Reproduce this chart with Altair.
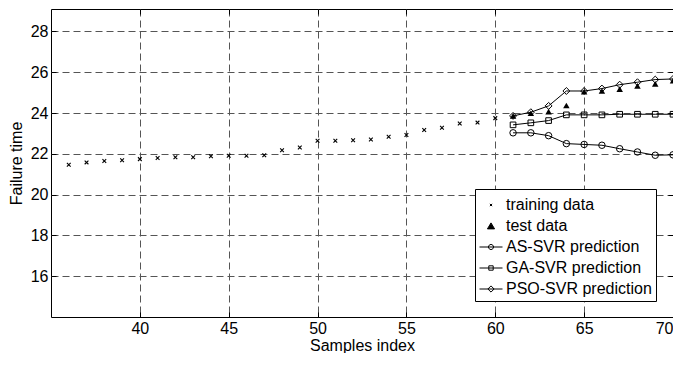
import altair as alt
import pandas as pd

# ---- data ----
train_x = list(range(36, 61))
train_y = [21.46, 21.58, 21.65, 21.69, 21.74, 21.80, 21.83, 21.83, 21.88, 21.91,
           21.91, 21.93, 22.17, 22.31, 22.64, 22.64, 22.67, 22.70, 22.84, 22.92,
           23.17, 23.28, 23.49, 23.53, 23.75]
test_x = list(range(61, 71))
test_y = [23.86, 23.99, 24.07, 24.37, 25.04, 25.08, 25.17, 25.33, 25.43, 25.58]
as_svr = [23.03, 23.03, 22.89, 22.50, 22.46, 22.42, 22.25, 22.09, 21.93, 21.95]
ga_svr = [23.42, 23.52, 23.63, 23.91, 23.91, 23.91, 23.94, 23.94, 23.94, 23.94]
pso_svr = [23.86, 24.04, 24.35, 25.08, 25.08, 25.20, 25.39, 25.51, 25.64, 25.67]

series_names = ["training data", "test data", "AS-SVR prediction",
                "GA-SVR prediction", "PSO-SVR prediction"]
x_ticks = [40, 45, 50, 55, 60, 65, 70]
y_ticks = [16, 18, 20, 22, 24, 26, 28]

FONT = "Liberation Sans"

train_df = pd.DataFrame({"x": train_x, "y": train_y})
test_df = pd.DataFrame({"x": test_x, "y": test_y})
pred_df = pd.concat([
    pd.DataFrame({"x": test_x, "y": as_svr, "method": "AS-SVR prediction"}),
    pd.DataFrame({"x": test_x, "y": ga_svr, "method": "GA-SVR prediction"}),
    pd.DataFrame({"x": test_x, "y": pso_svr, "method": "PSO-SVR prediction"}),
])
legend_df = pd.DataFrame({"series": series_names, "x": [0] * 5, "y": [0] * 5})

xs = alt.Scale(domain=[35, 70], nice=False, zero=False)
ys = alt.Scale(domain=[14, 29.1], nice=False, zero=False)

common_axis = dict(domain=False, offset=-5, tickSize=5, tickColor="black",
                   tickWidth=1, labelFont=FONT, labelFontSize=16,
                   labelColor="black", titleFont=FONT, titleFontSize=16,
                   titleFontWeight="normal", titleColor="black")

x_main = alt.Axis(values=x_ticks, orient="bottom", title="Samples index",
                  grid=True, gridDash=[7, 4], gridColor="#555",
                  labelPadding=3, titlePadding=1, **common_axis)
y_main = alt.Axis(values=y_ticks, orient="left", title="Failure time",
                  grid=True, gridDash=[7, 4], gridColor="#555",
                  labelPadding=3, titlePadding=6, **common_axis)
x_top = alt.Axis(values=x_ticks, orient="top", title=None, labels=False,
                 grid=False, domain=False, offset=-5, tickSize=5,
                 tickColor="black")
y_right = alt.Axis(values=y_ticks, orient="right", title=None, labels=False,
                   grid=False, domain=False, offset=-5, tickSize=5,
                   tickColor="black")

X_PATH = "M-1,-1L1,1M-1,1L1,-1"

lines = alt.Chart(pred_df).mark_line(color="black", strokeWidth=1).encode(
    x=alt.X("x:Q", scale=xs, axis=None),
    y=alt.Y("y:Q", scale=ys, axis=None),
    detail="method:N",
)

def marker_layer(method, shape, size):
    return alt.Chart(pred_df).transform_filter(
        alt.datum.method == method
    ).mark_point(shape=shape, size=size, filled=False, stroke="black",
                 strokeWidth=1, opacity=1).encode(
        x=alt.X("x:Q", scale=xs, axis=None),
        y=alt.Y("y:Q", scale=ys, axis=None),
    )

as_pts = marker_layer("AS-SVR prediction", "circle", 42)
ga_pts = marker_layer("GA-SVR prediction", "square", 32)
pso_pts = marker_layer("PSO-SVR prediction", "diamond", 48)

train_pts = alt.Chart(train_df).mark_point(
    shape=X_PATH, size=14, filled=False, stroke="black", strokeWidth=1.1,
    opacity=1).encode(
    x=alt.X("x:Q", scale=xs, axis=x_main),
    y=alt.Y("y:Q", scale=ys, axis=y_main),
)

test_pts = alt.Chart(test_df).mark_point(
    shape="triangle-up", size=42, filled=True, color="black",
    opacity=1).encode(
    x=alt.X("x:Q", scale=xs, axis=x_top),
    y=alt.Y("y:Q", scale=ys, axis=y_right),
)

# legend-only layer (no data drawn; entries come from explicit domains)
leg_x = "M-0.1,-0.1L0.1,0.1M-0.1,0.1L0.1,-0.1"
leg_tri = "M0,-0.27L0.31,0.25L-0.31,0.25Z"
leg_circ = "M-1,0H1M-0.22,0A0.22,0.22,0,1,0,0.22,0A0.22,0.22,0,1,0,-0.22,0Z"
leg_sq = "M-1,0H1M-0.19,-0.19H0.19V0.19H-0.19Z"
leg_dia = "M-1,0H1M0,-0.27L0.27,0L0,0.27L-0.27,0Z"

leg = alt.Legend(title=None, orient="none", legendX=424, legendY=180)
legend_layer = alt.Chart(legend_df).transform_filter(
    alt.datum.x > 1000
).mark_point(size=529, strokeWidth=1, opacity=1).encode(
    x=alt.X("x:Q", scale=xs, axis=None),
    y=alt.Y("y:Q", scale=ys, axis=None),
    shape=alt.Shape("series:N", legend=leg,
                    scale=alt.Scale(domain=series_names,
                                    range=[leg_x, leg_tri, leg_circ, leg_sq, leg_dia])),
    fill=alt.Fill("series:N", legend=leg,
                  scale=alt.Scale(domain=series_names,
                                  range=["transparent", "black", "transparent",
                                         "transparent", "transparent"])),
    stroke=alt.Stroke("series:N", legend=leg,
                      scale=alt.Scale(domain=series_names,
                                      range=["black"] * 5)),
)

chart = alt.layer(
    lines, as_pts, ga_pts, pso_pts, train_pts, test_pts, legend_layer
).resolve_axis(
    x="independent", y="independent"
).properties(
    width=622, height=308,
    autosize=alt.AutoSizeParams(type="none"),
    padding={"left": 43, "top": 1, "right": 0, "bottom": 36},
).configure_view(
    stroke="black", strokeWidth=1
).configure_legend(
    strokeColor="black", fillColor="white", padding=4, cornerRadius=0,
    labelFont=FONT, labelFontSize=16, labelColor="black",
    symbolSize=529, symbolStrokeWidth=1, rowPadding=1, labelOffset=3,
    symbolOffset=0, strokeWidth=1,
)

chart.save("out.html", embed_options={"renderer": "svg", "actions": False})
